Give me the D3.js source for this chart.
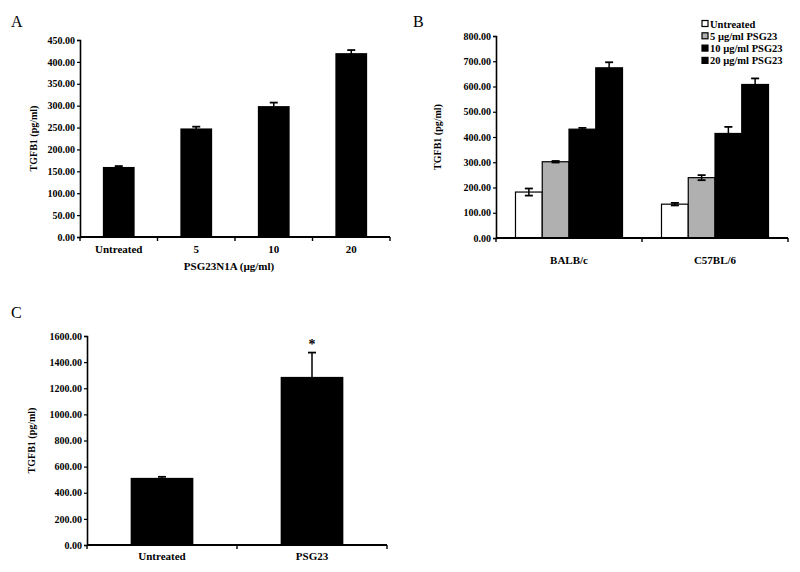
<!DOCTYPE html>
<html>
<head>
<meta charset="utf-8">
<script src="https://cdn.jsdelivr.net/npm/d3@7"></script>
<style>
  body { margin: 0; background: #fff; }
  svg text { font-family: "Liberation Serif", "DejaVu Serif", serif; fill: #000; }
</style>
</head>
<body>
<div id="main"></div>
<script>
// panel A
const catsA = ['Untreated', '5', '10', '20'];
const valsA = [160, 248, 299, 420];
const errA = [2, 4, 8, 7];
const ticksA = [0, 50, 100, 150, 200, 250, 300, 350, 400, 450];

// panel B
const groupsB = ['BALB/c', 'C57BL/6'];
const seriesB = ['Untreated', '5 \u00b5g/ml PSG23', '10 \u00b5g/ml PSG23', '20 \u00b5g/ml PSG23'];
const valsB = [[182, 302, 431, 674], [134, 239, 414, 608]];
const errB = [[14, 3, 5, 22], [5, 10, 26, 24]];
const ticksB = [0, 100, 200, 300, 400, 500, 600, 700, 800];

// panel C
const catsC = ['Untreated', 'PSG23'];
const valsC = [514, 1287];
const errC = [8, 186];
const ticksC = [0, 200, 400, 600, 800, 1000, 1200, 1400, 1600];

const fillsB = ['#fff', '#b0b0b0', '#000', '#000'];

let svg = d3.select('div#main')
  .append('svg')
  .attr('width', 800)
  .attr('height', 572);

// draws y axis, x baseline with boundary ticks, labels
function frame(g, y, ticks, xBounds, yLabel, yLabelX, ySpan) {
  const [x0, x1] = xBounds;
  const yAxis = d3.axisLeft(y)
    .tickValues(ticks)
    .tickSize(3)
    .tickFormat(d3.format('.2f'));
  const ax = g.append('g')
    .attr('transform', `translate(${x0},0)`)
    .call(yAxis);
  ax.select('.domain').attr('stroke-width', 1.6);
  ax.selectAll('.tick line').attr('stroke-width', 1.2);
  ax.selectAll('.tick text')
    .attr('font-size', 10)
    .attr('font-weight', 'bold')
    .attr('x', -5);

  g.append('line')
    .attr('x1', x0).attr('x2', x1)
    .attr('y1', y(0)).attr('y2', y(0))
    .attr('stroke', '#000')
    .attr('stroke-width', 1.8);

  g.append('text')
    .text(yLabel)
    .attr('transform', `translate(${yLabelX},${(ySpan[0] + ySpan[1]) / 2}) rotate(-90)`)
    .attr('text-anchor', 'middle')
    .attr('font-size', 10)
    .attr('font-weight', 'bold');
}

function xTicks(g, band, y0) {
  const pts = band.domain().map(d => band(d)).concat([band.range()[1]]);
  g.selectAll('line.xt')
    .data(pts)
    .enter()
    .append('line')
      .attr('class', 'xt')
      .attr('x1', d => d).attr('x2', d => d)
      .attr('y1', y0).attr('y2', y0 + 4)
      .attr('stroke', '#000')
      .attr('stroke-width', 1.4);
}

function errBars(g, data, cx, y, cap) {
  const eb = g.selectAll('g.eb')
    .data(data)
    .enter()
    .append('g')
      .attr('class', 'eb');
  eb.append('line')
    .attr('x1', d => cx(d)).attr('x2', d => cx(d))
    .attr('y1', d => y(d.v + d.e)).attr('y2', d => y(d.v - d.e))
    .attr('stroke', '#000').attr('stroke-width', 1.5);
  eb.append('line')
    .attr('x1', d => cx(d) - cap).attr('x2', d => cx(d) + cap)
    .attr('y1', d => y(d.v + d.e)).attr('y2', d => y(d.v + d.e))
    .attr('stroke', '#000').attr('stroke-width', 1.8);
  eb.append('line')
    .attr('x1', d => cx(d) - cap).attr('x2', d => cx(d) + cap)
    .attr('y1', d => y(d.v - d.e)).attr('y2', d => y(d.v - d.e))
    .attr('stroke', '#000').attr('stroke-width', 1.8);
}

function panelLetter(t, x, y) {
  svg.append('text')
    .text(t)
    .attr('x', x).attr('y', y)
    .attr('font-size', 16);
}

// ---------- A ----------
{
  const g = svg.append('g');
  const y = d3.scaleLinear().domain([0, 450]).range([237, 40]);
  const xb = d3.scaleBand().domain(catsA).range([80, 390]);
  const x = d3.scaleBand().domain(catsA).range([80, 390]).paddingInner(0.59).paddingOuter(0.295);
  const data = catsA.map((c, i) => ({ c, v: valsA[i], e: errA[i] }));

  g.selectAll('rect')
    .data(data)
    .enter()
    .append('rect')
      .attr('x', d => x(d.c))
      .attr('y', d => y(d.v))
      .attr('width', x.bandwidth())
      .attr('height', d => y(0) - y(d.v))
      .attr('fill', '#000');

  errBars(g, data, d => x(d.c) + x.bandwidth() / 2, y, 4);
  frame(g, y, ticksA, [80, 390], 'TGFB1 (pg/ml)', 37, [40, 237]);
  xTicks(g, xb, 237);

  g.selectAll('text.cat')
    .data(catsA)
    .enter()
    .append('text')
      .attr('class', 'cat')
      .text(d => d)
      .attr('x', d => xb(d) + xb.bandwidth() / 2)
      .attr('y', 253)
      .attr('text-anchor', 'middle')
      .attr('font-size', 11)
      .attr('font-weight', 'bold');

  g.append('text')
    .text('PSG23N1A (\u00b5g/ml)')
    .attr('x', 229).attr('y', 270)
    .attr('text-anchor', 'middle')
    .attr('font-size', 11)
    .attr('font-weight', 'bold');

  panelLetter('A', 11, 27);
}

// ---------- B ----------
{
  const g = svg.append('g');
  const y = d3.scaleLinear().domain([0, 800]).range([238, 36]);
  const xb = d3.scaleBand().domain(groupsB).range([496, 788]);
  const x0 = d3.scaleBand().domain(groupsB).range([496, 788]).paddingInner(0.267).paddingOuter(0.1335);
  const x1 = d3.scaleBand().domain(d3.range(seriesB.length)).range([0, x0.bandwidth()]);
  const data = [];
  groupsB.forEach((grp, gi) => {
    seriesB.forEach((s, si) => data.push({ grp, si, v: valsB[gi][si], e: errB[gi][si] }));
  });

  g.selectAll('rect.bar')
    .data(data)
    .enter()
    .append('rect')
      .attr('class', 'bar')
      .attr('x', d => x0(d.grp) + x1(d.si))
      .attr('y', d => y(d.v))
      .attr('width', x1.bandwidth())
      .attr('height', d => y(0) - y(d.v))
      .attr('fill', d => fillsB[d.si])
      .attr('stroke', '#000')
      .attr('stroke-width', 1.2);

  errBars(g, data, d => x0(d.grp) + x1(d.si) + x1.bandwidth() / 2, y, 4);
  frame(g, y, ticksB, [496, 788], 'TGFB1 (pg/ml)', 441, [36, 238]);
  xTicks(g, xb, 238);

  g.selectAll('text.cat')
    .data(groupsB)
    .enter()
    .append('text')
      .attr('class', 'cat')
      .text(d => d)
      .attr('x', d => xb(d) + xb.bandwidth() / 2)
      .attr('y', 264)
      .attr('text-anchor', 'middle')
      .attr('font-size', 11)
      .attr('font-weight', 'bold');

  // legend
  const leg = g.selectAll('g.leg')
    .data(seriesB)
    .enter()
    .append('g')
      .attr('class', 'leg')
      .attr('transform', (d, i) => `translate(702,${24 + i * 12.3})`);
  leg.append('rect')
    .attr('x', 0).attr('y', -3.5)
    .attr('width', 6).attr('height', 6)
    .attr('fill', (d, i) => fillsB[i])
    .attr('stroke', '#000')
    .attr('stroke-width', 1.2);
  leg.append('text')
    .text(d => d)
    .attr('x', 8)
    .attr('y', 3.5)
    .attr('font-size', 10.5)
    .attr('font-weight', 'bold');

  panelLetter('B', 413, 27);
}

// ---------- C ----------
{
  const g = svg.append('g');
  const y = d3.scaleLinear().domain([0, 1600]).range([545, 336]);
  const xb = d3.scaleBand().domain(catsC).range([87, 387]);
  const x = d3.scaleBand().domain(catsC).range([87, 387]).paddingInner(0.582).paddingOuter(0.291);
  const data = catsC.map((c, i) => ({ c, v: valsC[i], e: errC[i] }));

  g.selectAll('rect')
    .data(data)
    .enter()
    .append('rect')
      .attr('x', d => x(d.c))
      .attr('y', d => y(d.v))
      .attr('width', x.bandwidth())
      .attr('height', d => y(0) - y(d.v))
      .attr('fill', '#000');

  errBars(g, data, d => x(d.c) + x.bandwidth() / 2, y, 4);
  frame(g, y, ticksC, [87, 387], 'TGFB1 (pg/ml)', 35, [336, 545]);
  xTicks(g, xb, 545);

  g.selectAll('text.cat')
    .data(catsC)
    .enter()
    .append('text')
      .attr('class', 'cat')
      .text(d => d)
      .attr('x', d => xb(d) + xb.bandwidth() / 2)
      .attr('y', 560)
      .attr('text-anchor', 'middle')
      .attr('font-size', 11)
      .attr('font-weight', 'bold');

  // significance mark
  g.append('text')
    .text('*')
    .attr('x', x('PSG23') + x.bandwidth() / 2)
    .attr('y', y(valsC[1] + errC[1]) - 4)
    .attr('text-anchor', 'middle')
    .attr('font-size', 14)
    .attr('font-weight', 'bold');

  panelLetter('C', 11, 318);
}
</script>
</body>
</html>
